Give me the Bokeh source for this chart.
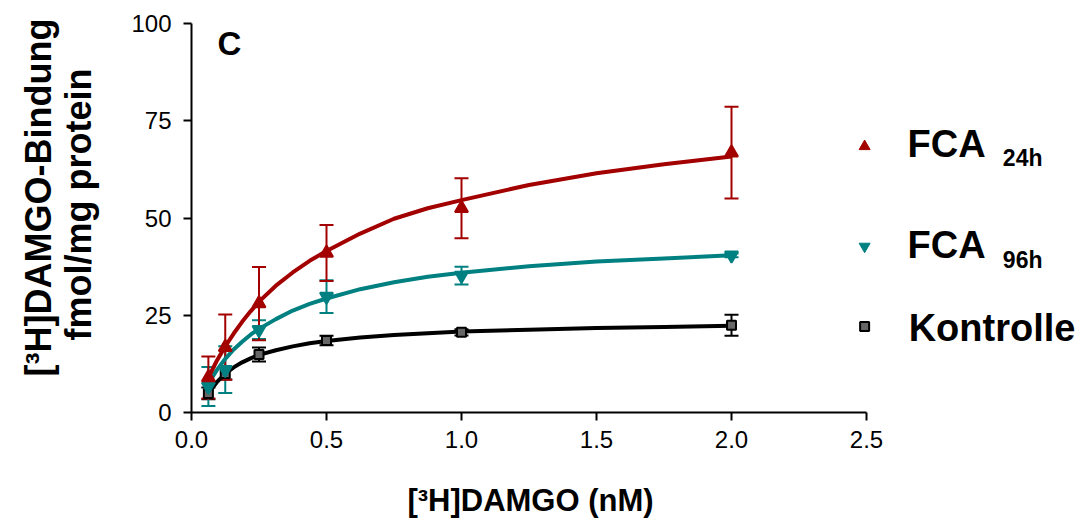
import math
from bokeh.plotting import figure
from bokeh.layouts import row, column
from bokeh.models import (ColumnDataSource, Range1d, FixedTicker, Whisker, TeeHead,
                          Label, NumeralTickFormatter)
from bokeh.embed import file_html
from bokeh.resources import INLINE

# ---------------- data ----------------
conc = [0.0625, 0.125, 0.25, 0.5, 1.0, 2.0]

fca24_mean = [9.0, 16.8, 28.0, 41.0, 52.5, 66.8]
fca24_sem = [5.4, 8.4, 9.4, 7.2, 7.7, 11.8]

fca96_mean = [6.7, 11.0, 21.3, 29.8, 35.2, 40.4]
fca96_sem = [5.0, 6.0, 2.4, 4.2, 2.3, 0.5]

ctrl_mean = [4.9, 10.0, 14.9, 18.5, 20.6, 22.4]
ctrl_sem = [1.5, 1.5, 1.8, 1.2, 0.8, 2.7]

# fitted curves, values
curve_x = [0.0625, 0.09375, 0.125, 0.15625, 0.1875, 0.21875, 0.25, 0.3125, 0.375,
           0.4375, 0.5, 0.625, 0.75, 0.875, 1.0, 1.25, 1.5, 1.75, 2.0]
fca24_curve = [9.0, 13.3, 17.0, 20.3, 23.3, 26.0, 28.5, 32.6, 36.0,
               39.0, 41.5, 46.0, 49.8, 52.5, 54.6, 58.5, 61.5, 63.8, 65.8]
fca96_curve = [7.5, 10.9, 13.8, 16.2, 18.2, 20.0, 21.5, 24.0, 26.2,
               27.9, 29.3, 31.7, 33.5, 34.9, 35.9, 37.6, 38.8, 39.6, 40.4]
ctrl_curve = [5.0, 7.8, 10.0, 11.6, 12.9, 13.9, 14.8, 16.0, 17.0,
              17.8, 18.4, 19.3, 19.9, 20.4, 20.8, 21.3, 21.7, 22.0, 22.3]

x_ticks = [0.0, 0.5, 1.0, 1.5, 2.0, 2.5]
y_ticks = [0, 25, 50, 75, 100]

legend_names = ["FCA", "FCA", "Kontrolle"]
legend_subs = ["24h", "96h"]

x_title = "[³H]DAMGO (nM)"
y_title_1 = "[³H]DAMGO-Bindung"
y_title_2 = "fmol/mg protein"
panel_letter = "C"

# ---------------- style ----------------
RED = "#A30000"
TEAL = "#008080"
BLACK = "#000000"
FONT = "Liberation Sans"

LEFT_W = 110       # strip holding the y title
BOTTOM_H = 50      # strip holding the x title
W, H = 1092, 520
FRAME_LEFT, FRAME_TOP, FRAME_BOTTOM = 191, 23, 412


def blank(width, height, xr, yr):
    f = figure(width=width, height=height, output_backend="svg", toolbar_location=None,
               x_range=xr, y_range=yr, x_axis_type=None, y_axis_type=None)
    f.min_border = 0
    f.outline_line_color = None
    f.grid.visible = False
    f.background_fill_color = "white"
    f.border_fill_color = "white"
    return f


# ---------------- main plot ----------------
p = figure(width=W - LEFT_W, height=H - BOTTOM_H, output_backend="svg",
           toolbar_location=None, x_range=Range1d(0, 3.337), y_range=Range1d(0, 100))
p.min_border_left = FRAME_LEFT - LEFT_W
p.min_border_right = 0
p.min_border_top = FRAME_TOP
p.min_border_bottom = (H - BOTTOM_H) - FRAME_BOTTOM
p.outline_line_color = None
p.grid.visible = False
p.background_fill_color = "white"
p.border_fill_color = "white"

for ax in (p.xaxis[0], p.yaxis[0]):
    ax.axis_line_width = 2
    ax.axis_line_color = "black"
    ax.major_tick_line_width = 2
    ax.major_tick_line_color = "black"
    ax.major_tick_out = 8
    ax.major_tick_in = 0
    ax.minor_tick_line_color = None
    ax.major_label_text_font = FONT
    ax.major_label_text_font_size = "24px"
    ax.major_label_text_color = "black"

p.xaxis.bounds = (0, 2.5)
p.xaxis.ticker = FixedTicker(ticks=x_ticks)
p.xaxis.formatter = NumeralTickFormatter(format="0.0")
p.xaxis.major_label_standoff = 10
p.yaxis.ticker = FixedTicker(ticks=y_ticks)
p.yaxis.major_label_standoff = 12


def series(xs, ys, errs, cx, cy, color, marker, size, fill):
    p.line(cx, cy, line_color=color, line_width=4)
    src = ColumnDataSource(dict(x=xs, upper=[m + e for m, e in zip(ys, errs)],
                                lower=[m - e for m, e in zip(ys, errs)]))
    w = Whisker(base="x", upper="upper", lower="lower", source=src,
                line_color=color, line_width=2,
                upper_head=TeeHead(size=14, line_color=color, line_width=2),
                lower_head=TeeHead(size=14, line_color=color, line_width=2))
    p.add_layout(w)
    p.scatter(xs, ys, marker=marker, size=size, fill_color=fill,
              line_color=color, line_width=2)


series(conc, ctrl_mean, ctrl_sem, curve_x, ctrl_curve, BLACK, "square", 9, "#666666")
series(conc, fca96_mean, fca96_sem, curve_x, fca96_curve, TEAL, "inverted_triangle", 13, TEAL)
series(conc, fca24_mean, fca24_sem, curve_x, fca24_curve, RED, "triangle", 13, RED)

# legend (drawn by hand, right of the axes)
leg_x = 2.493
leg_y = [68.4, 42.7, 22.1]
p.scatter([leg_x], [leg_y[0]], marker="triangle", size=11, color=RED)
p.scatter([leg_x], [leg_y[1]], marker="inverted_triangle", size=11, color=TEAL)
p.scatter([leg_x], [leg_y[2]], marker="square", size=9, fill_color="#666666",
          line_color=BLACK, line_width=2)

name_pos = [(2.652, 68.9), (2.652, 43.1), (2.656, 21.8)]
sub_pos = [(3.005, 65.4), (3.005, 39.2)]
for (nx, ny), name in zip(name_pos, legend_names):
    p.add_layout(Label(x=nx, y=ny, text=name, text_font=FONT, text_font_style="bold",
                       text_font_size="38px", text_color="black",
                       text_baseline="alphabetic", text_align="left"))
for (sx, sy), sub in zip(sub_pos, legend_subs):
    p.add_layout(Label(x=sx, y=sy, text=sub, text_font=FONT, text_font_style="bold",
                       text_font_size="23px", text_color="black",
                       text_baseline="alphabetic", text_align="left"))

p.add_layout(Label(x=0.096, y=94.8, text=panel_letter, text_font=FONT,
                   text_font_style="bold", text_font_size="33px", text_color="black",
                   text_baseline="alphabetic"))

# ---------------- y title strip (coordinates = page pixels, y measured up) ----------------
fy = blank(LEFT_W, H, Range1d(0, LEFT_W), Range1d(0, H))
fy.add_layout(Label(x=38, y=H - 197, text=y_title_1, text_font=FONT, text_font_style="bold",
                    text_font_size="36px", text_color="black", text_align="center",
                    text_baseline="alphabetic", angle=math.pi / 2))
fy.add_layout(Label(x=78, y=H - 204, text=y_title_2, text_font=FONT, text_font_style="bold",
                    text_font_size="36px", text_color="black", text_align="center",
                    text_baseline="alphabetic", angle=math.pi / 2))

# ---------------- x title strip ----------------
# its frame is aligned with the main frame (page x 191 .. 1092); y measured up from page bottom
fx = blank(W - LEFT_W, BOTTOM_H, Range1d(FRAME_LEFT, W), Range1d(0, BOTTOM_H))
fx.add_layout(Label(x=530, y=H - 500, text=x_title, text_font=FONT, text_font_style="bold",
                    text_font_size="31px", text_color="black", text_align="center",
                    text_baseline="alphabetic"))

layout = row(fy, column(p, fx, spacing=0), spacing=0)
open("out.html", "w").write(file_html(layout, INLINE))
